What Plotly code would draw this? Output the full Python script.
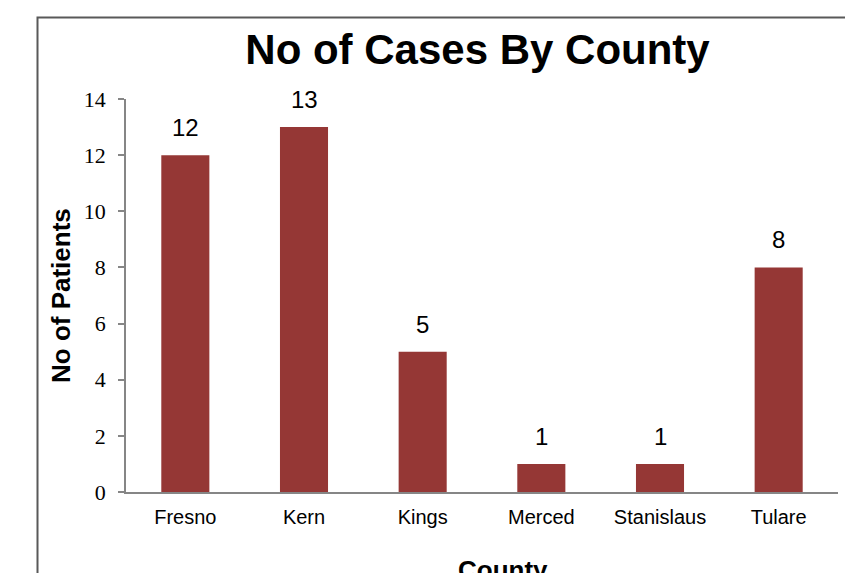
import plotly.graph_objects as go

counties = ["Fresno", "Kern", "Kings", "Merced", "Stanislaus", "Tulare"]
patients = [12, 13, 5, 1, 1, 8]
y_ticks = [0, 2, 4, 6, 8, 10, 12, 14]

BAR = "#953735"
AXIS = "#868686"

fig = go.Figure()
fig.add_trace(go.Bar(
    x=counties, y=patients,
    marker=dict(color=BAR, line=dict(width=0)),
    hoverinfo="x+y",
))

annotations = []
for c, v in zip(counties, patients):
    annotations.append(dict(
        x=c, y=v, xref="x", yref="y", text=str(v), showarrow=False,
        yanchor="bottom", yshift=12,
        font=dict(family="Liberation Sans, Arial", size=24, color="#000000"),
    ))

annotations.append(dict(
    text="<b>No of Patients</b>", textangle=-90, showarrow=False,
    xref="paper", yref="paper", x=-0.092, y=0.5, xanchor="center", yanchor="middle",
    font=dict(family="Liberation Sans, Arial", size=26, color="#000000"),
))
annotations.append(dict(
    text="<b>County</b>", showarrow=False,
    xref="paper", yref="paper", x=(503.5 - 126) / 712, y=-(587 - 492) / 393,
    xanchor="center", yanchor="bottom",
    font=dict(family="Liberation Sans, Arial", size=26, color="#000000"),
))

fig.update_layout(
    width=845, height=573,
    margin=dict(l=126, r=7, t=99, b=81),
    paper_bgcolor="white", plot_bgcolor="white",
    bargap=0.595,
    showlegend=False,
    title=dict(
        text="<b>No of Cases By County</b>",
        x=477.5 / 845, xanchor="center",
        y=1 - 49 / 573, yanchor="middle", yref="container",
        font=dict(family="Liberation Sans, Arial", size=42, color="#000000"),
    ),
    xaxis=dict(
        showline=True, linecolor=AXIS, linewidth=1.5,
        ticks="", showgrid=False, zeroline=False,
        tickfont=dict(family="Liberation Sans, Arial", size=20, color="#000000"),
        ticklabelstandoff=6,
    ),
    yaxis=dict(
        range=[0, 14], tickvals=y_ticks,
        showline=True, linecolor=AXIS, linewidth=1.5,
        ticks="outside", ticklen=6, tickcolor=AXIS, tickwidth=1.5,
        showgrid=False, zeroline=False,
        tickfont=dict(family="Liberation Serif, Times New Roman", size=22, color="#000000"),
        ticklabelstandoff=8,
    ),
    annotations=annotations,
    shapes=[dict(
        type="rect", xref="paper", yref="paper",
        x0=(37.5 - 126) / 712, x1=1.2,
        y0=-0.5, y1=(492 - 17.5) / 393,
        line=dict(color="#595959", width=2), fillcolor="rgba(0,0,0,0)", layer="below",
    )],
)

fig.write_html("out.html")
